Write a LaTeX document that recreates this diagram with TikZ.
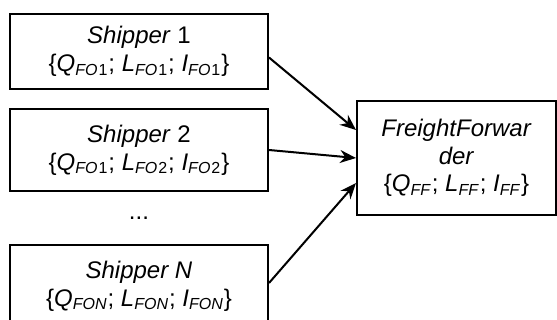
\documentclass[tikz,border=0pt]{standalone}
\usepackage{fontspec}
\setmainfont{Liberation Sans}
\usepackage{tikz}
\usetikzlibrary{arrows.meta}

\newcommand{\sub}[1]{\textsubscript{\textit{#1}}}

\begin{document}
\begin{tikzpicture}[x=0.5pt, y=-0.5pt,
    box/.style={draw, line width=1pt, align=center, inner sep=0pt,
      font=\fontsize{12}{13.8}\selectfont},
    shipper/.style={box, minimum width=129pt},
    arr/.style={-{Stealth[length=8pt,width=6.5pt]}, line width=1pt}]
  \useasboundingbox (0,0) rectangle (557,320);

  % Shippers
  \node[shipper, minimum height=37.5pt] (s1) at (139,51.5)
    {\textit{Shipper} 1\\\{\textit{Q}\sub{FO}\textsubscript{1}; \textit{L}\sub{FO}\textsubscript{1}; \textit{I}\sub{FO}\textsubscript{1}\}};
  \node[shipper, minimum height=41pt] (s2) at (139,150)
    {\textit{Shipper} 2\\\{\textit{Q}\sub{FO}\textsubscript{1}; \textit{L}\sub{FO}\textsubscript{2}; \textit{I}\sub{FO}\textsubscript{2}\}};
  \node[font=\fontsize{12}{13.8}\selectfont] (dots) at (139,218) {...};
  \node[shipper, minimum height=41pt] (sN) at (139,286)
    {\textit{Shipper N}\\\{\textit{Q}\sub{FON}; \textit{L}\sub{FON}; \textit{I}\sub{FON}\}};

  % Freight forwarder
  \node[box, minimum width=99.5pt, minimum height=57pt] (ff) at (456.5,158)
    {\textit{FreightForwar}\\\textit{der}\\\{\textit{Q}\sub{FF}; \textit{L}\sub{FF}; \textit{I}\sub{FF}\}};

  % Arrows
  \draw[arr] ([yshift=-3pt]s1.east) -- ([yshift=14pt]ff.west);
  \draw[arr] (s2.east) -- (ff.west);
  \draw[arr] ([yshift=1.5pt]sN.east) -- ([yshift=-12.5pt]ff.west);
\end{tikzpicture}
\end{document}
